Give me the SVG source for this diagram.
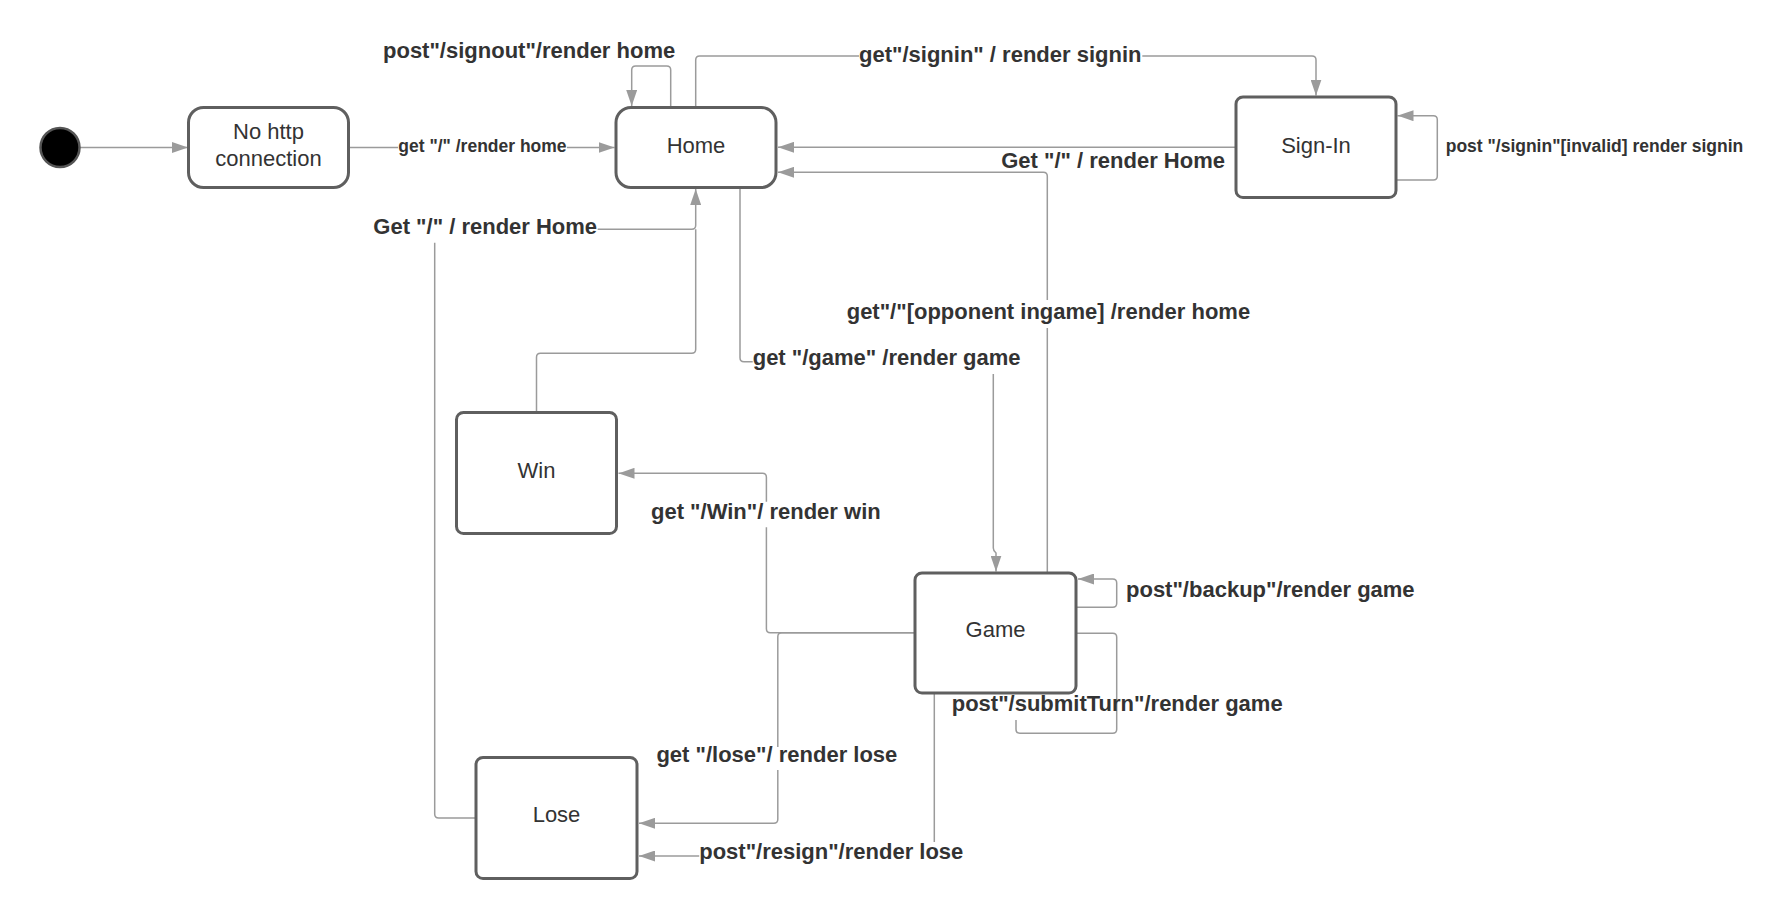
<svg xmlns="http://www.w3.org/2000/svg" width="1787" height="918" viewBox="0 0 1787 918">
<defs>
<style>
.node{fill:#fff;stroke:#5f5f5f;stroke-width:3}
.nt{font-family:"Liberation Sans",Arial,sans-serif;font-size:22px;fill:#333;text-anchor:middle}
.lb{font-family:"Liberation Sans",Arial,sans-serif;font-size:22px;font-weight:bold;fill:#333}
.sm{font-size:17.5px}
.c{fill:none;stroke:#9b9b9b;stroke-width:1.5}
.a{marker-end:url(#arr)}
</style>
<marker id="arr" markerUnits="userSpaceOnUse" markerWidth="16" markerHeight="11" refX="16" refY="5.5" orient="auto">
<path d="M0,0 L16,5.5 L0,11 z" fill="#9b9b9b"/>
</marker>
</defs>
<rect width="1787" height="918" fill="#fff"/>
<g id="connectors">
<path class="c a" d="M80 147.5 H188"/>
<path class="c" d="M349 147.5 H398"/>
<path class="c a" d="M567 147.5 H614.5"/>
<path class="c a" d="M670.7 107.5 V70 Q670.7 66 666.7 66 H635.7 Q631.7 66 631.7 70 V106"/>
<path class="c" d="M695.7 107.5 V60 Q695.7 56 699.7 56 H859"/>
<path class="c a" d="M1142.3 56 H1312 Q1316 56 1316 60 V95.5"/>
<path class="c a" d="M1236 147.3 H778"/>
<path class="c a" d="M1396 180 H1433.3 Q1437.3 180 1437.3 176 V119.7 Q1437.3 115.7 1433.3 115.7 H1397.5"/>
<path class="c" d="M476 818 H438.7 Q434.7 818 434.7 814 V242.7"/>
<path class="c a" d="M597.7 229.3 H691.7 Q695.7 229.3 695.7 225.3 V189"/>
<path class="c" d="M536.5 412.5 V357.3 Q536.5 353.3 540.5 353.3 H691.7 Q695.7 353.3 695.7 349.3 V229.3"/>
<path class="c" d="M740 187.5 V357.7 Q740 361.7 744 361.7 H752.7"/>
<path class="c a" d="M993.3 374 V548 Q993.3 551 996 553 V571.5"/>
<path class="c" d="M1047.3 573 V328"/>
<path class="c a" d="M1047.3 300 V176.3 Q1047.3 172.3 1043.3 172.3 H778"/>
<path class="c" d="M915 632.7 H770.4 Q766.4 632.7 766.4 628.7 V527.3"/>
<path class="c a" d="M766.4 501.7 V477.3 Q766.4 473.3 762.4 473.3 H618.5"/>
<path class="c" d="M915 632.7 H781.8 Q777.8 632.7 777.8 636.7 V747"/>
<path class="c a" d="M777.8 770 V819.3 Q777.8 823.3 773.8 823.3 H639"/>
<path class="c" d="M934.3 693 V842"/>
<path class="c a" d="M699.2 856 H639"/>
<path class="c a" d="M1076 607.3 H1112.7 Q1116.7 607.3 1116.7 603.3 V583 Q1116.7 579 1112.7 579 H1078"/>
<path class="c" d="M1076 633.3 H1112.7 Q1116.7 633.3 1116.7 637.3 V729.3 Q1116.7 733.3 1112.7 733.3 H1020 Q1016 733.3 1016 729.3 V720"/>
</g>
<g id="labels">
<text class="lb sm" x="398.3" y="151.5">get "/" /render home</text>
<text class="lb" x="383" y="58">post"/signout"/render home</text>
<text class="lb" x="859" y="61.5">get"/signin" / render signin</text>
<text class="lb" x="1225" y="168" text-anchor="end">Get "/" / render Home</text>
<text class="lb sm" x="1445.7" y="152.3">post "/signin"[invalid] render signin</text>
<text class="lb" x="373.3" y="234">Get "/" / render Home</text>
<text class="lb" x="752.7" y="365">get "/game" /render game</text>
<text class="lb" x="846.7" y="318.5">get"/"[opponent ingame] /render home</text>
<text class="lb" x="651" y="518.5">get "/Win"/ render win</text>
<text class="lb" x="1126" y="597">post"/backup"/render game</text>
<text class="lb" x="951.7" y="710.7">post"/submitTurn"/render game</text>
<text class="lb" x="656.4" y="761.7">get "/lose"/ render lose</text>
<text class="lb" x="699.2" y="859.3">post"/resign"/render lose</text>
</g>
<g id="start"><circle cx="60" cy="147.5" r="19.5" fill="#000" stroke="#555" stroke-width="2.5"/></g>
<g id="nohttp"><rect class="node" x="188.5" y="107.5" width="160" height="80" rx="15"/><text class="nt" x="268.5" y="138.5">No http</text><text class="nt" x="268.5" y="165.5">connection</text></g>
<g id="home"><rect class="node" x="616" y="107.5" width="160" height="80" rx="15"/><text class="nt" x="696" y="153">Home</text></g>
<g id="signin"><rect class="node" x="1236" y="97" width="160" height="100.5" rx="7"/><text class="nt" x="1316" y="152.5">Sign-In</text></g>
<g id="win"><rect class="node" x="456.5" y="412.5" width="160" height="121" rx="7"/><text class="nt" x="536.5" y="478">Win</text></g>
<g id="game"><rect class="node" x="915" y="573" width="161" height="120" rx="7"/><text class="nt" x="995.5" y="637">Game</text></g>
<g id="lose"><rect class="node" x="476" y="757.5" width="161" height="121" rx="7"/><text class="nt" x="556.5" y="822">Lose</text></g>
</svg>
